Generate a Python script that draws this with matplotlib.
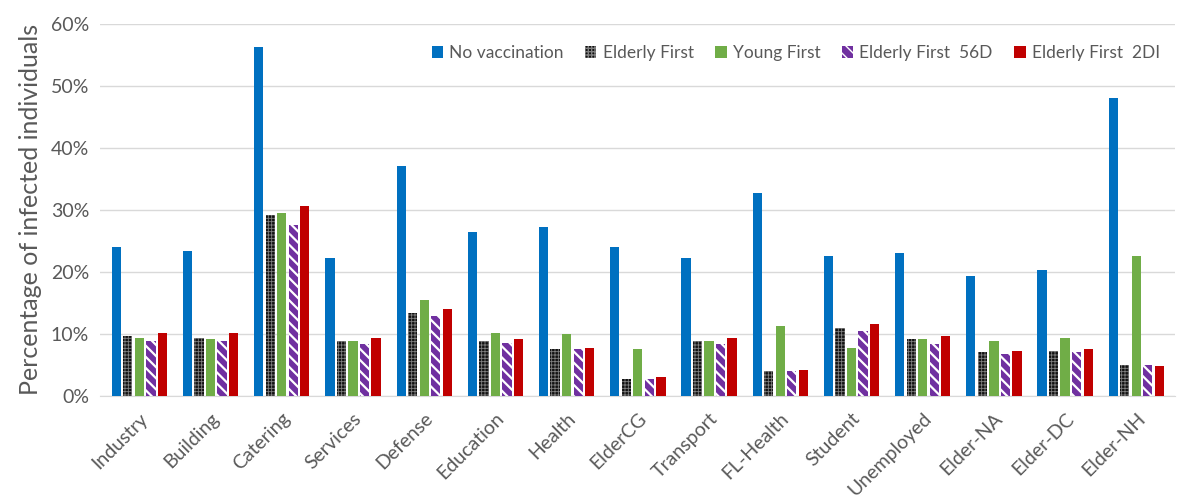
import matplotlib.pyplot as plt
import numpy as np

plt.rcParams['font.family'] = ['Lato', 'DejaVu Sans']

categories = ['Industry', 'Building', 'Catering', 'Services', 'Defense', 'Education',
              'Health', 'ElderCG', 'Transport', 'FL-Health', 'Student', 'Unemployed',
              'Elder-NA', 'Elder-DC', 'Elder-NH']

# percentages
no_vacc = [24.0, 23.4, 56.2, 22.3, 37.1, 26.5, 27.3, 24.0, 22.3, 32.7, 22.6, 23.0, 19.3, 20.3, 48.0]
elderly_first = [9.6, 9.4, 29.2, 8.9, 13.4, 8.8, 7.5, 2.8, 8.9, 4.0, 11.0, 9.1, 7.1, 7.3, 5.0]
young_first = [9.3, 9.2, 29.5, 8.9, 15.4, 10.1, 10.0, 7.5, 8.9, 11.2, 7.8, 9.1, 8.8, 9.3, 22.5]
elderly_56d = [8.9, 8.8, 27.6, 8.4, 12.9, 8.6, 7.5, 2.8, 8.4, 4.0, 10.5, 8.4, 6.8, 7.1, 5.0]
elderly_2di = [10.2, 10.1, 30.7, 9.4, 14.0, 9.2, 7.8, 3.0, 9.4, 4.2, 11.6, 9.7, 7.3, 7.6, 4.9]

series = [
    ('No vaccination', no_vacc, dict(color='#0070C0'), 1.0),
    ('Elderly First', elderly_first, dict(facecolor='#111111', edgecolor='#808080', hatch='+++++', linewidth=0), 0.6),
    ('Young First', young_first, dict(color='#70AD47'), 1.0),
    ('Elderly First  56D', elderly_56d, dict(facecolor='#7030A0', edgecolor='white', hatch='\\\\\\', linewidth=0), 1.6),
    ('Elderly First  2DI', elderly_2di, dict(color='#C00000'), 1.0),
]

fig = plt.figure(figsize=(11.79, 4.98), dpi=100)
ax = fig.add_axes([0.085, 0.205, 0.912, 0.747])

x = np.arange(len(categories))
step = 0.162
width = 0.13
for i, (name, vals, style, hlw) in enumerate(series):
    with plt.rc_context({'hatch.linewidth': hlw}):
        ax.bar(x + (i - 2) * step, np.array(vals) / 100, width, label=name, zorder=3, **style)

ax.set_ylim(0, 0.6)
ax.set_xlim(-0.55, len(categories) - 0.45)
ax.set_yticks(np.arange(0, 0.61, 0.1))
ax.set_yticklabels([f'{int(round(v * 100))}%' for v in np.arange(0, 0.61, 0.1)])
ax.set_xticks(x)
ax.set_xticklabels(categories, rotation=45, ha='right', rotation_mode='anchor')
ax.tick_params(axis='both', length=0, labelsize=14, colors='#595959', pad=8)
ax.tick_params(axis='x', pad=10)
ax.grid(axis='y', color='#d9d9d9', linewidth=1, zorder=0)
for s in ['top', 'right', 'left']:
    ax.spines[s].set_visible(False)
ax.spines['bottom'].set_color('#d9d9d9')
ax.set_ylabel('Percentage of infected individuals', fontsize=18, color='#595959', labelpad=6)

ax.legend(loc='upper right', ncol=5, frameon=False, fontsize=12.5, handlelength=0.65,
          handleheight=0.65, handletextpad=0.35, columnspacing=1.25, labelcolor='#595959',
          bbox_to_anchor=(1.0, 0.985))

fig.savefig('out.png', dpi=100)
